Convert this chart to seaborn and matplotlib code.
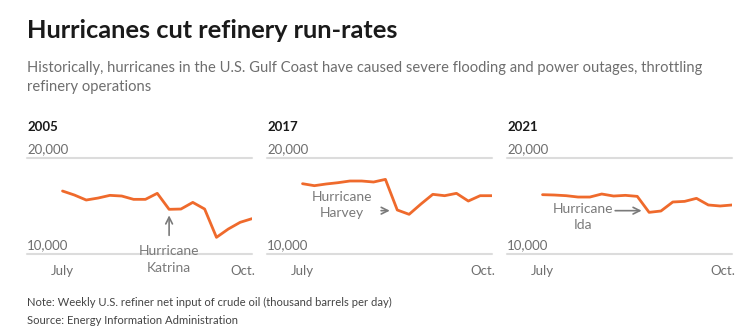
import matplotlib
matplotlib.use("Agg")
import matplotlib.pyplot as plt
import seaborn as sns
import pandas as pd

sns.set_theme(style="white")
plt.rcParams['font.family'] = ['Lato', 'DejaVu Sans']

W, H = 751, 329

years = ["2005", "2017", "2021"]
weeks = list(range(17))
values_2005 = [16540, 16125, 15605, 15810, 16090, 16020, 15675, 15675, 16300,
               14640, 14670, 15360, 14670, 11730, 12595, 13290, 13670]
values_2017 = [17300, 17095, 17270, 17405, 17580, 17580, 17475, 17750, 14570,
               14120, 15190, 16195, 16055, 16300, 15500, 16055, 16055]
values_2021 = [16160, 16125, 16055, 15915, 15915, 16230, 16020, 16090, 15985,
               14325, 14465, 15400, 15465, 15780, 15090, 14985, 15090]
series = [values_2005, values_2017, values_2021]
ytick_values = [10000, 20000]
ytick_labels = ["10,000", "20,000"]
xtick_labels = ["July", "Oct."]
xtick_pos = [0, 15.2]
hurricanes = ["Hurricane\nKatrina", "Hurricane\nHarvey", "Hurricane\nIda"]

LINE = "#ef6a2c"
GRID = "#dcdcdc"
GRAYTXT = "#6e6e6e"
ANN = "#7a7a7a"

fig = plt.figure(figsize=(W / 100, H / 100), dpi=100)
fig.patch.set_facecolor("white")

def fx(px):
    return px / W

def fy(py):
    return 1 - py / H

fig.text(fx(27), fy(31), "Hurricanes cut refinery run-rates", fontsize=18.3,
         fontweight="bold", color="#1a1a1a", va="center", ha="left")
fig.text(fx(27), fy(68), "Historically, hurricanes in the U.S. Gulf Coast have caused severe flooding and power outages, throttling",
         fontsize=10.6, color=GRAYTXT, va="center", ha="left")
fig.text(fx(27), fy(87), "refinery operations", fontsize=10.6, color=GRAYTXT, va="center", ha="left")

lefts = [27, 267, 507]
ax_w = 225
top_px, bot_px = 157.7, 254

for i, (yr, vals, left) in enumerate(zip(years, series, lefts)):
    ax = fig.add_axes([fx(left), fy(bot_px), ax_w / W, (bot_px - top_px) / H])
    df = pd.DataFrame({"week": weeks, "value": vals})
    sns.lineplot(data=df, x="week", y="value", ax=ax, color=LINE, linewidth=2)
    ax.set_xlim(-3, 16)
    ax.set_ylim(10000, 20000)
    for yv, lab in zip(ytick_values, ytick_labels):
        ax.axhline(yv, color=GRID, linewidth=1.5, zorder=0, clip_on=False)
        ax.annotate(lab, xy=(-3, yv), xytext=(0, 2), textcoords="offset points",
                    ha="left", va="bottom", fontsize=9.5, color=GRAYTXT,
                    annotation_clip=False)
    for xp, lab in zip(xtick_pos, xtick_labels):
        ax.annotate(lab, xy=(xp, 10000), xytext=(0, -8), textcoords="offset points",
                    ha="center", va="top", fontsize=9.5, color=GRAYTXT,
                    annotation_clip=False)
    ax.set_xticks([])
    ax.set_yticks([])
    ax.set_xlabel("")
    ax.set_ylabel("")
    for s in ax.spines.values():
        s.set_visible(False)
    ax.patch.set_alpha(0)
    fig.text(fx(left), fy(127), yr, fontsize=9.5, fontweight="bold",
             color="#1a1a1a", va="center", ha="left")

    if i == 0:
        ax.annotate("", xy=(9, 14300), xytext=(9, 11650),
                    arrowprops=dict(arrowstyle="->", color=ANN, lw=1.2),
                    annotation_clip=False)
        ax.text(9, 9430, hurricanes[0], ha="center", va="center", fontsize=10,
                color=ANN, linespacing=1.45, clip_on=False)
    elif i == 1:
        ax.annotate("", xy=(7.6, 14500), xytext=(6.4, 14500),
                    arrowprops=dict(arrowstyle="->", color=ANN, lw=1.2),
                    annotation_clip=False)
        ax.text(3.3, 15090, hurricanes[1], ha="center", va="center", fontsize=10,
                color=ANN, linespacing=1.45)
    else:
        ax.annotate("", xy=(8.6, 14500), xytext=(5.9, 14500),
                    arrowprops=dict(arrowstyle="->", color=ANN, lw=1.2),
                    annotation_clip=False)
        ax.text(3.4, 13840, hurricanes[2], ha="center", va="center", fontsize=10,
                color=ANN, linespacing=1.45)

fig.text(fx(27), fy(302), "Note: Weekly U.S. refiner net input of crude oil (thousand barrels per day)",
         fontsize=8.1, color="#444444", va="center", ha="left")
fig.text(fx(27), fy(321), "Source: Energy Information Administration",
         fontsize=8.1, color="#444444", va="center", ha="left")

fig.savefig("out.png", dpi=100, facecolor="white")
